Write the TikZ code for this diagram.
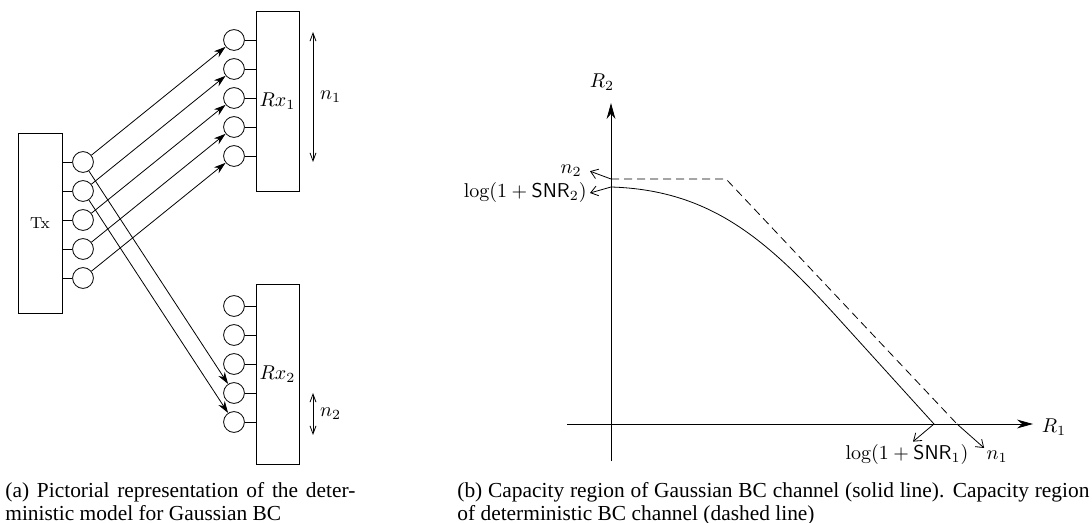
\documentclass[tikz,border=0pt]{standalone}
\usepackage{fontspec}
\newfontfamily\capfont{Liberation Serif}
\usetikzlibrary{arrows.meta,positioning}

\begin{document}
\begin{tikzpicture}[x=0.5pt,y=-0.5pt,
  node distance=3.7pt,
  blk/.style={draw,minimum width=21.5pt,minimum height=90pt,inner sep=0pt},
  bit/.style={draw,circle,minimum size=10.4pt,inner sep=0pt},
  arr/.style={-{Stealth[length=6pt,width=3.8pt]}},
  axarr/.style={-{Stealth[length=8pt,width=4.4pt]}},
  span/.style={{Straight Barb[length=4pt,width=3pt]}-{Straight Barb[length=4pt,width=3pt]}},
  tag/.style={-{Straight Barb[length=3.5pt,width=5pt]}},
  captext/.style={anchor=north west,inner sep=0pt,align=justify,font=\capfont\fontsize{10.7}{11.5}\selectfont}
]
\useasboundingbox (0,0) rectangle (1092,523);
% deterministic model
\node[blk,minimum width=22pt] (tx) at (40,223) {\footnotesize Tx};
\node[blk] (rx1) at (277.5,101) {$Rx_1$};
\node[blk] (rx2) at (277.5,374) {$Rx_2$};
\node[bit] (t1) at (83,162) {};
\node[bit,below=of t1] (t2) {};
\node[bit,below=of t2] (t3) {};
\node[bit,below=of t3] (t4) {};
\node[bit,below=of t4] (t5) {};
\node[bit] (a1) at (234,40) {};
\node[bit,below=of a1] (a2) {};
\node[bit,below=of a2] (a3) {};
\node[bit,below=of a3] (a4) {};
\node[bit,below=of a4] (a5) {};
\node[bit] (b1) at (234,306) {};
\node[bit,below=of b1] (b2) {};
\node[bit,below=of b2] (b3) {};
\node[bit,below=of b3] (b4) {};
\node[bit,below=of b4] (b5) {};
\draw (tx.east |- t1) -- (t1);
\draw (tx.east |- t2) -- (t2);
\draw (tx.east |- t3) -- (t3);
\draw (tx.east |- t4) -- (t4);
\draw (tx.east |- t5) -- (t5);
\draw (a1) -- (a1 -| rx1.west);
\draw (a2) -- (a2 -| rx1.west);
\draw (a3) -- (a3 -| rx1.west);
\draw (a4) -- (a4 -| rx1.west);
\draw (a5) -- (a5 -| rx1.west);
\draw (b1) -- (b1 -| rx2.west);
\draw (b2) -- (b2 -| rx2.west);
\draw (b3) -- (b3 -| rx2.west);
\draw (b4) -- (b4 -| rx2.west);
\draw (b5) -- (b5 -| rx2.west);
\draw[arr] (t1) -- (a1);
\draw[arr] (t2) -- (a2);
\draw[arr] (t3) -- (a3);
\draw[arr] (t4) -- (a4);
\draw[arr] (t5) -- (a5);
\draw[arr] (t1) -- (b4);
\draw[arr] (t2) -- (b5);
\coordinate (n1t) at (313,32);
\coordinate (n1b) at (313,162);
\coordinate (n2t) at (313,393);
\coordinate (n2b) at (313,435);
\draw[span] (n1t) -- (n1b) node[midway,right] {$n_1$};
\draw[span] (n2t) -- (n2b) node[midway,right] {$n_2$};
% capacity regions
\coordinate (ybot) at (611,461);
\coordinate (ytop) at (611,103);
\coordinate (xlft) at (567,424);
\coordinate (xrgt) at (1033,424);
\node (r2) at (602,82) {$R_2$};
\node (r1) at (1054,427) {$R_1$};
\draw[axarr] (ybot) -- (ytop);
\draw[axarr] (xlft) -- (xrgt);
\coordinate (da) at (611,179);
\coordinate (db) at (726,179);
\coordinate (dc) at (957,424);
\coordinate (ga) at (611,187);
\coordinate (gb) at (837,317);
\coordinate (gc) at (934,424);
\draw[dash pattern=on 4pt off 2.5pt] (da) -- (db) -- (dc);
\draw (ga) .. controls (711,190) and (767,240) .. (gb) -- (gc);
\node[anchor=base east,inner sep=4pt] (n2lab) at (590,174) {$n_2$};
\node[anchor=base east,inner sep=1.5pt] (lg2) at (590,198) {$\log(1+\mathsf{SNR}_2)$};
\node[anchor=base,inner sep=1pt] (lg1) at (907,459) {$\log(1+\mathsf{SNR}_1)$};
\node[anchor=base,inner sep=1pt] (n1lab) at (997,459) {$n_1$};
\draw[tag] (da) -- (n2lab.east);
\draw[tag] (ga) -- (lg2.east);
\draw[tag] (gc) -- ([xshift=3pt]lg1.north);
\draw[tag] (dc) -- (n1lab.north west);
% captions
\node[captext,text width=175pt] (capa) at (5,482) {(a) Pictorial representation of the deter-\linebreak ministic model for Gaussian BC};
\node[captext,text width=316pt] (capb) at (457,482) {(b) Capacity region of Gaussian BC channel (solid line). Capacity region\linebreak of deterministic BC channel (dashed line)};
\end{tikzpicture}
\end{document}
